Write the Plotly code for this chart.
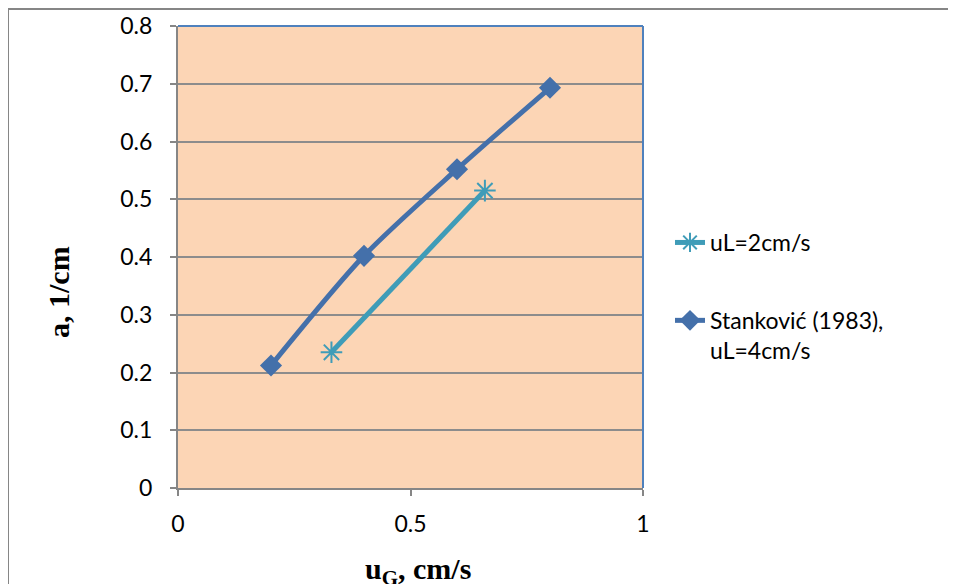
import plotly.graph_objects as go

# Data
ul2_x = [0.33, 0.66]
ul2_y = [0.235, 0.515]
stank_x = [0.2, 0.4, 0.6, 0.8]
stank_y = [0.212, 0.402, 0.552, 0.693]
ul2_name = "uL=2cm/s"
stank_name = "Stanković (1983),<br>uL=4cm/s"
x_ticks = [0, 0.5, 1]
x_tick_text = ["0", "0.5", "1"]
y_ticks = [0, 0.1, 0.2, 0.3, 0.4, 0.5, 0.6, 0.7, 0.8]
y_tick_text = ["0", "0.1", "0.2", "0.3", "0.4", "0.5", "0.6", "0.7", "0.8"]

OFF = 8  # page body margin
W, H = 956 - OFF, 584 - OFF
L, R, T, B = 178 - OFF, 643 - OFF, 26 - OFF, 488 - OFF

def px(x):
    return (x - OFF - L) / (R - L)

def py(y):
    return (B - (y - OFF)) / (B - T)

FONT = "Lato"
SERIF = "Liberation Serif"
TICKFONT = dict(family=FONT, size=23, color="black")

fig = go.Figure()
fig.add_trace(go.Scatter(
    x=ul2_x, y=ul2_y, name=ul2_name, mode="lines+markers", legendgroup="a",
    line=dict(color="#3F9CB8", width=5),
    marker=dict(symbol="asterisk-open", size=18, color="#3F9CB8",
                line=dict(color="#3F9CB8", width=2)),
))
fig.add_trace(go.Scatter(
    x=stank_x, y=stank_y, name=stank_name, mode="lines+markers", legendgroup="b",
    line=dict(color="#4470AA", width=5, shape="spline", smoothing=0.8),
    marker=dict(symbol="diamond", size=17, color="#4470AA"),
))

fig.update_layout(
    width=W, height=H,
    margin=dict(l=L, r=W - R, t=T, b=H - B, autoexpand=False),
    paper_bgcolor="white",
    plot_bgcolor="#FCD5B5",
    font=dict(family=FONT, size=23, color="black"),
    showlegend=True,
    legend=dict(x=px(670), y=py(221), xanchor="left", yanchor="top",
                bgcolor="rgba(0,0,0,0)", font=dict(family=FONT, size=23),
                traceorder="grouped", tracegroupgap=45, itemwidth=30,
                valign="top"),
    xaxis=dict(range=[0, 1], tickvals=x_ticks, ticktext=x_tick_text,
               tickfont=TICKFONT,
               showgrid=False, zeroline=False,
               showline=True, linecolor="#868686", linewidth=2,
               ticks="outside", ticklen=6, tickcolor="#868686", tickwidth=2,
               ticklabelstandoff=8, fixedrange=True, automargin=False),
    yaxis=dict(range=[0, 0.8], tickvals=y_ticks, ticktext=y_tick_text,
               tickfont=TICKFONT,
               showgrid=True, gridcolor="#8C8C8C", gridwidth=2,
               zeroline=False,
               showline=True, linecolor="#868686", linewidth=2,
               ticks="outside", ticklen=6, tickcolor="#868686", tickwidth=2,
               ticklabelstandoff=13, fixedrange=True, automargin=False),
    shapes=[
        # outer chart border (top and left)
        dict(type="line", xref="paper", yref="paper",
             x0=px(8), y0=py(9), x1=px(960), y1=py(9),
             line=dict(color="#868686", width=2)),
        dict(type="line", xref="paper", yref="paper",
             x0=px(8), y0=py(9), x1=px(8), y1=py(590),
             line=dict(color="#868686", width=2)),
        # plot-area border top and right
        dict(type="line", xref="paper", yref="paper",
             x0=0, y0=1, x1=1, y1=1, line=dict(color="#4F81BD", width=2)),
        dict(type="line", xref="paper", yref="paper",
             x0=1, y0=0, x1=1, y1=1, line=dict(color="#4F81BD", width=2)),
    ],
    annotations=[
        dict(text="<b>a, 1/cm</b>", xref="paper", yref="paper",
             x=px(59), y=py(292), textangle=-90, showarrow=False,
             xanchor="center", yanchor="middle",
             font=dict(family=SERIF, size=30, color="black")),
        dict(text="<b>u<sub>G</sub>, cm/s</b>", xref="paper", yref="paper",
             x=px(418), y=py(571), showarrow=False,
             xanchor="center", yanchor="middle",
             font=dict(family=SERIF, size=30, color="black")),
    ],
)

fig.write_html("out.html")
